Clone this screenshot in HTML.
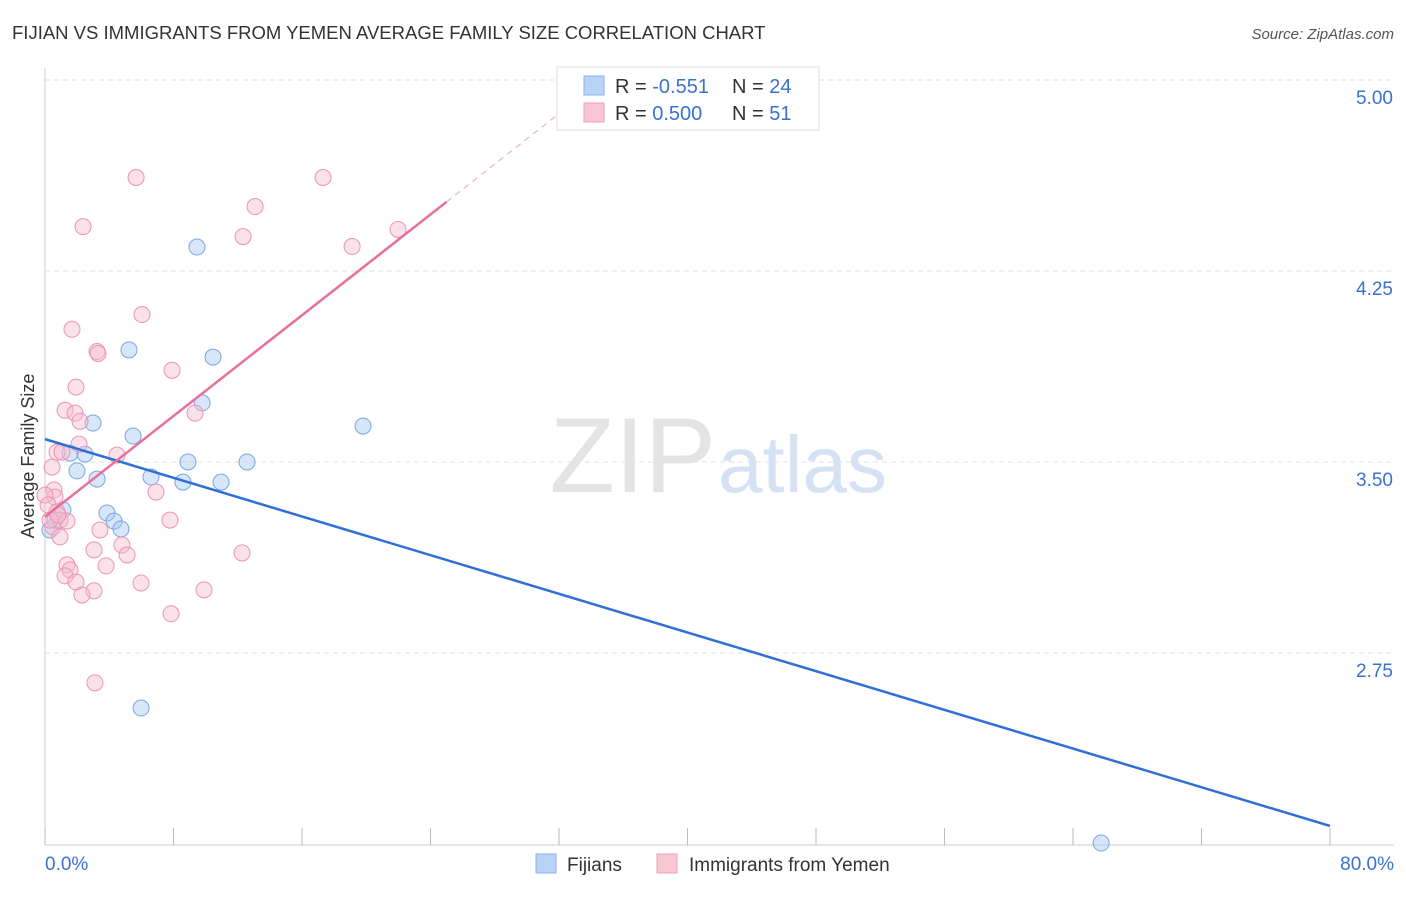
<!DOCTYPE html>
<html><head><meta charset="utf-8"><style>
body{margin:0;background:#fff;font-family:"Liberation Sans",sans-serif;}
svg text{font-family:"Liberation Sans",sans-serif;}
</style></head><body>
<svg id="c" width="1406" height="892">
<text x="12" y="39" font-size="18.5" fill="#333">FIJIAN VS IMMIGRANTS FROM YEMEN AVERAGE FAMILY SIZE CORRELATION CHART</text>
<text x="1394" y="39" font-size="15" fill="#555" font-style="italic" text-anchor="end">Source: ZipAtlas.com</text>
<text x="716" y="492" font-size="107" fill="#e4e4e4" text-anchor="end" font-family="Liberation Serif">ZIP</text>
<text x="718" y="492" font-size="80" fill="#d4e2f4">atlas</text>
<text transform="translate(34,456) rotate(-90)" font-size="18" fill="#333" text-anchor="middle">Average Family Size</text>
<g id="axes"></g><g id="marks"></g>
<g>
<rect x="557" y="67" width="262" height="63" fill="#fff" stroke="#ddd"/>
<rect x="584" y="76" width="20" height="19" fill="#b8d3f5" stroke="#8ab2e8"/>
<rect x="584" y="103" width="20" height="19" fill="#f9c6d5" stroke="#ee9fb8"/>
<text x="615" y="93" font-size="20" fill="#333">R = <tspan fill="#3a72d0">-0.551</tspan><tspan x="732">N = </tspan><tspan fill="#3a72d0">24</tspan></text>
<text x="615" y="120" font-size="20" fill="#333">R = <tspan fill="#3a72d0"> 0.500</tspan><tspan x="732">N = </tspan><tspan fill="#3a72d0"> 51</tspan></text>
</g>
<g>
<rect x="536" y="854" width="20" height="19" fill="#b8d3f5" stroke="#8ab2e8"/>
<text x="567" y="871" font-size="19" fill="#333">Fijians</text>
<rect x="657" y="854" width="20" height="19" fill="#f9c6d5" stroke="#ee9fb8"/>
<text x="689" y="871" font-size="19" fill="#333">Immigrants from Yemen</text>
</g>
</svg>
<script>
const yTicks=[5.00,4.25,3.50,2.75];
const yTickLabels=["5.00","4.25","3.50","2.75"];
const xTickVals=[0,8,16,24,32,40,48,56,64,72,80];
const fijiX=[0.31,0.62,1.12,1.56,1.99,2.49,2.99,3.24,3.86,4.30,4.73,5.23,5.48,5.98,6.60,8.59,8.90,9.46,9.78,10.46,10.96,12.58,19.80,65.75];
const fijiY=[3.233,3.272,3.312,3.535,3.465,3.531,3.653,3.433,3.300,3.268,3.237,3.940,3.602,2.534,3.441,3.421,3.5,4.344,3.732,3.912,3.421,3.5,3.641,2.004];
const yemX=[5.67,17.31,2.37,13.08,12.33,19.12,21.98,6.04,1.68,3.24,3.30,7.91,1.93,1.25,1.87,2.18,2.12,9.34,4.48,0.75,1.06,0.44,0.56,0.62,6.91,0,0.19,0.75,0.93,1.37,0.50,0.93,7.78,3.42,3.05,4.79,5.11,12.27,1.37,1.56,1.25,3.80,1.93,5.98,3.05,2.30,9.90,7.85,3.11,0.31,0.81];
const yemY=[4.617,4.617,4.424,4.503,4.385,4.346,4.413,4.079,4.021,3.934,3.926,3.860,3.794,3.703,3.692,3.660,3.570,3.692,3.527,3.539,3.539,3.480,3.390,3.362,3.382,3.370,3.331,3.304,3.272,3.268,3.245,3.206,3.272,3.233,3.155,3.174,3.135,3.143,3.096,3.076,3.053,3.092,3.029,3.025,2.994,2.978,2.998,2.904,2.633,3.272,3.292];
const NS="http://www.w3.org/2000/svg";
const sx=v=>45+v*16.0625, sy=v=>462-(v-3.5)*254.7;
function mk(t,a,p){const e=document.createElementNS(NS,t);for(const k in a)e.setAttribute(k,a[k]);p.appendChild(e);return e;}
const ax=document.getElementById('axes'),mg=document.getElementById('marks');
yTicks.forEach((v,i)=>{
 const g=mk('line',{x1:45,x2:1394,y1:sy(v),y2:sy(v),stroke:'#e2e2e2','stroke-dasharray':'5,4'},ax);
 
 
 const t=mk('text',{x:1393,y:sy(v)+24,'font-size':19,fill:'#3a72d0','text-anchor':'end'},ax);t.textContent=yTickLabels[i];
 
 
});
mk('line',{x1:45,x2:45,y1:68,y2:845,stroke:'#ccc'},ax);
mk('line',{x1:45,x2:1394,y1:845,y2:845,stroke:'#ccc'},ax);
xTickVals.forEach(v=>{const l=mk('line',{x1:sx(v),x2:sx(v),y1:828,y2:845,stroke:'#bbb'},ax);
 
 });
[[0,"0.0%",'start',45],[80,"80.0%",'end',1394]].forEach(a=>{const t=mk('text',{x:a[3],y:870,'font-size':19,fill:'#3a72d0','text-anchor':a[2]},ax);t.textContent=a[1];
 
 });
function reg(X,Y){const n=X.length;let mx=0,my=0;for(let i=0;i<n;i++){mx+=X[i];my+=Y[i];}mx/=n;my/=n;let sxy=0,sxx=0;for(let i=0;i<n;i++){sxy+=(X[i]-mx)*(Y[i]-my);sxx+=(X[i]-mx)**2;}const b=sxy/sxx;return [my-b*mx,b];}
function pts(X,Y,fill,stroke,name){X.forEach((x,i)=>{const c=mk('circle',{cx:sx(x),cy:sy(Y[i]),r:8,fill:fill,'fill-opacity':0.45,stroke:stroke,'stroke-width':1},mg);
 
 });}
pts(fijiX,fijiY,'#a9c8f2','#7aa6e4','fijian-point');
pts(yemX,yemY,'#f7bcd0','#ec94b1','yemen-point');
const fb=reg(fijiX,fijiY);
const bl=mk('line',{x1:sx(0),y1:sy(fb[0]),x2:sx(80),y2:sy(fb[0]+fb[1]*80),stroke:'#2f6fd6','stroke-width':2.5},mg);


const yb=reg(yemX,yemY);
const pl=mk('line',{x1:sx(0),y1:sy(yb[0]),x2:sx(25),y2:sy(yb[0]+yb[1]*25),stroke:'#e8709a','stroke-width':2.5},mg);


const pd=mk('line',{x1:sx(25),y1:sy(yb[0]+yb[1]*25),x2:sx(33),y2:sy(yb[0]+yb[1]*33),stroke:'#f0b0c6','stroke-width':1.2,'stroke-dasharray':'6,5'},mg);


</script>
</body></html>
